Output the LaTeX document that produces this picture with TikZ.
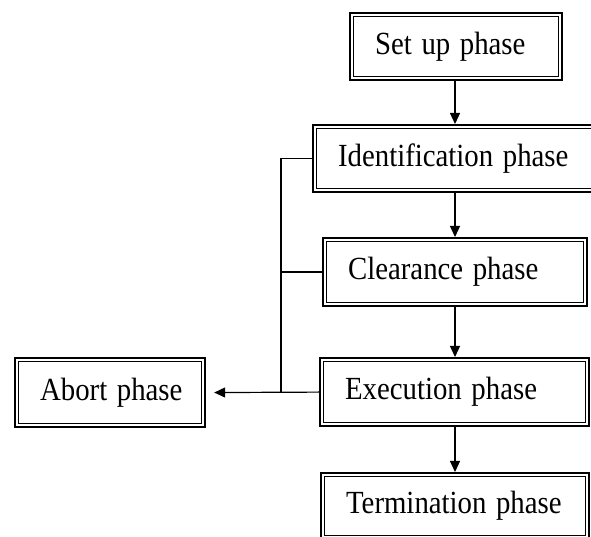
\documentclass[tikz,border=0pt]{standalone}
\usepackage{fontspec}
\setmainfont{Liberation Serif}
\usetikzlibrary{arrows.meta}
\newcommand{\phasetext}[1]{\hspace*{25pt}\scalebox{1}[1.12]{#1}}
\begin{document}
\begin{tikzpicture}[x=1pt,y=1pt,
  phasebox/.style={draw, line width=2.2pt, anchor=north west, inner xsep=0pt,
    inner ysep=0pt, align=left,
    font=\fontsize{28.8}{32}\selectfont,
    append after command={
      \pgfextra{\draw[line width=1.3pt]
        ([shift={(4.6pt,4.6pt)}]\tikzlastnode.south west) rectangle
        ([shift={(-4.6pt,-4.6pt)}]\tikzlastnode.north east);}}},
  link/.style={line width=1.2pt},
  flow/.style={link, -{Triangle[length=11pt,width=10pt]}}]
\useasboundingbox (0,0) rectangle (591,537);
% phase boxes: top-left corner, size
\node[phasebox, minimum height=67pt, text width=212pt] (setup) at (349,525) {\phasetext{Set up phase}};
\node[phasebox, minimum height=67pt, text width=283pt] (ident) at (312,413) {\phasetext{Identification phase}};
\node[phasebox, minimum height=68pt, text width=264pt] (clear) at (322,300) {\phasetext{Clearance phase}};
\node[phasebox, minimum height=68pt, text width=269pt] (exec) at (319,180) {\phasetext{Execution phase}};
\node[phasebox, minimum height=69pt, text width=190pt] (abort) at (14,180) {\phasetext{Abort phase}};
\node[phasebox, minimum height=66pt, text width=268pt] (term) at (320,65) {\phasetext{Termination phase}};
% main flow along one vertical line
\coordinate (spine) at (455,0);
\draw[flow] (spine |- setup.south) -- (spine |- ident.north);
\draw[flow] (spine |- ident.south) -- (spine |- clear.north);
\draw[flow] (spine |- clear.south) -- (spine |- exec.north);
\draw[flow] (spine |- exec.south) -- (spine |- term.north);
% branch to abort
\coordinate (bus) at (281,0);
\draw[link] (ident.west) -- (bus |- ident.west) -- (bus |- exec.west);
\draw[link] (clear.west) -- (bus |- clear.west);
\draw[flow, shorten >=8pt] (exec.west) -- (abort.east);
\end{tikzpicture}
\end{document}
